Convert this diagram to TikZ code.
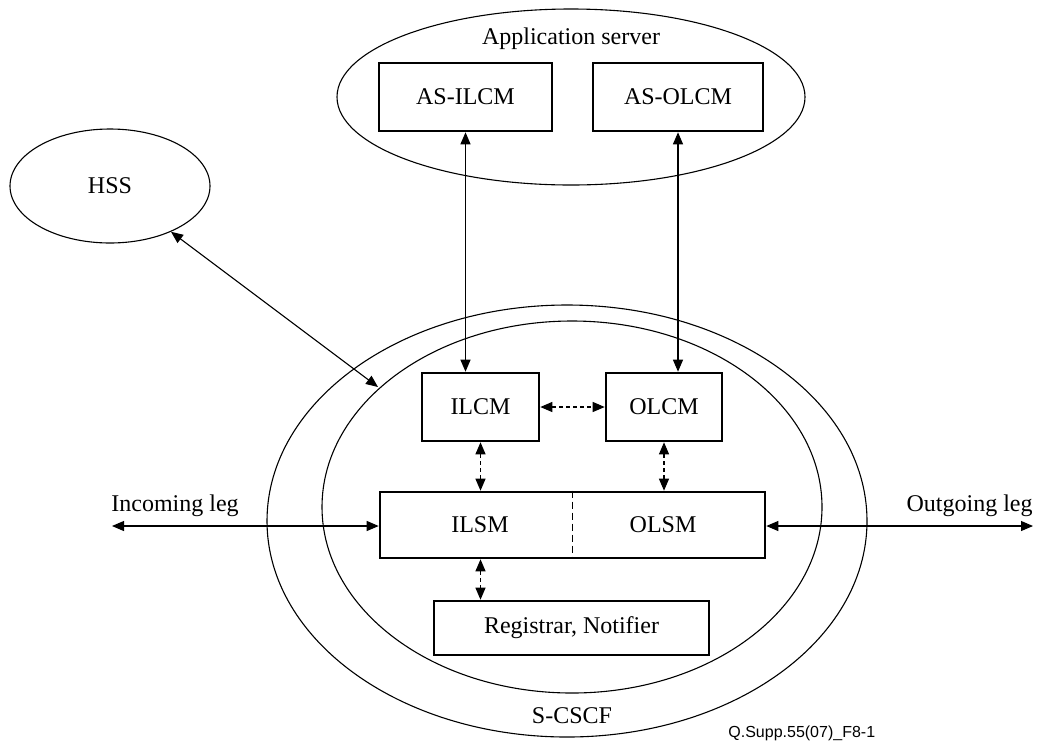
\documentclass[tikz,border=0pt]{standalone}
\usepackage{fontspec}
\setmainfont{Liberation Serif}
\newfontfamily\footfont{Liberation Sans}
\usetikzlibrary{arrows.meta,shapes.geometric}
\tikzset{
  box/.style={draw, line width=1.3pt, inner sep=0pt, font=\fontsize{12}{14}\selectfont},
  lbl/.style={inner sep=0pt, font=\fontsize{12}{14}\selectfont},
  thin/.style={line width=0.55pt},
  dbl/.style={thin, {Triangle[length=6pt,width=5pt]}-{Triangle[length=6pt,width=5pt]}},
  ddbl/.style={dbl, dash pattern=on 2pt off 1.5pt},
}
\begin{document}
\begin{tikzpicture}[x=0.5pt, y=-0.5pt]
\useasboundingbox (0,0) rectangle (1037,740);
% enclosing ellipses
\draw[thin] (571,97) ellipse [x radius=117pt, y radius=44pt];
\draw[thin] (567,521) ellipse [x radius=150pt, y radius=108pt];
\draw[thin] (572,507) ellipse [x radius=125pt, y radius=93pt];
\node[lbl, anchor=base] (astitle) at (571,44) {Application server};
\node[lbl, anchor=base] (scscf) at (572,723) {S-CSCF};
% HSS
\node[draw, thin, ellipse, minimum width=100pt, minimum height=57pt, inner sep=0pt,
      font=\fontsize{12}{14}\selectfont] (hss) at (110,186) {HSS};
% boxes
\node[box, minimum width=86.5pt, minimum height=34pt] (asilcm) at (465.5,97) {AS-ILCM};
\node[box, minimum width=85pt, minimum height=34pt] (asolcm) at (678,97) {AS-OLCM};
\node[box, minimum width=58.5pt, minimum height=34pt] (ilcm) at (480.5,407) {ILCM};
\node[box, minimum width=58pt, minimum height=34pt] (olcm) at (664,407) {OLCM};
\node[box, minimum width=192.5pt, minimum height=33pt] (lsm) at (572.5,525) {};
\node[lbl] (ilsm) at (480,525) {ILSM};
\node[lbl] (olsm) at (663,525) {OLSM};
\draw[thin, dash pattern=on 3.5pt off 2pt] (lsm.north) -- (lsm.south);
\node[box, minimum width=137.5pt, minimum height=27pt] (reg) at (571.5,628) {Registrar, Notifier};
% legs
\coordinate (inend) at (112,526);
\coordinate (outend) at (1033,526);
\node[lbl, anchor=base west] (inlbl) at (111,511) {Incoming leg};
\node[lbl, anchor=base east] (outlbl) at (1033,511) {Outgoing leg};
\draw[dbl] (inend) -- (lsm.west |- inend);
\draw[dbl] (lsm.east |- outend) -- (outend);
% HSS link
\coordinate (hssend) at (378,387);
\draw[dbl] (hss) -- (hssend);
% AS links
\draw[dbl] (asilcm.south) -- (asilcm.south |- ilcm.north);
\draw[dbl] (asolcm.south) -- (asolcm.south |- olcm.north);
% internal dashed links
\draw[ddbl] (ilcm.east) -- (olcm.west);
\draw[ddbl] (ilcm.south) -- (ilcm.south |- lsm.north);
\draw[ddbl] (olcm.south) -- (olcm.south |- lsm.north);
\draw[ddbl] (ilcm.south |- lsm.south) -- (ilcm.south |- reg.north);
% footer
\node[inner sep=0pt, anchor=base west, font=\footfont\fontsize{8}{10}\selectfont] (foot) at (728,737) {Q.Supp.55(07)\_F8-1};
\end{tikzpicture}
\end{document}
